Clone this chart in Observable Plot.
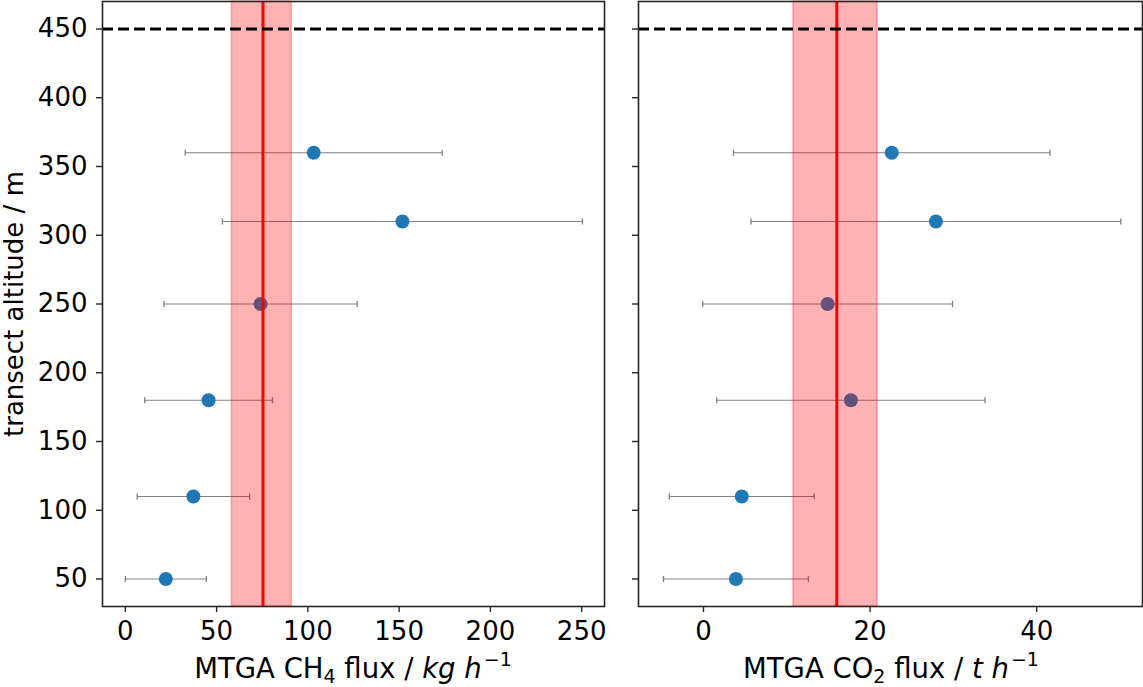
<!DOCTYPE html>
<html>
<head>
<meta charset="utf-8">
<script src="https://cdn.jsdelivr.net/npm/d3@7"></script>
<script src="https://cdn.jsdelivr.net/npm/@observablehq/plot@0.6"></script>
<style>
  body { margin: 0; background: #fff; font-family: "DejaVu Sans", sans-serif; }
  #wrap { position: relative; width: 1143px; height: 687px; overflow: hidden; }
  .panel { position: absolute; top: 0; }
  .xlabel { position: absolute; top: 653px; font-size: 27.5px; line-height: 30px; white-space: nowrap; transform: translateX(-50%); color: #000; }
  .xlabel sub { font-size: 19px; vertical-align: -5px; line-height: 0; }
  .xlabel sup { font-size: 19px; vertical-align: 12px; line-height: 0; margin-left: 2px; }
</style>
</head>
<body>
<div id="wrap">
  <div class="panel" id="left" style="left:0"></div>
  <div class="panel" id="right" style="left:620px"></div>
  <div class="xlabel" style="left:353px">MTGA CH<sub>4</sub> flux / <i>kg</i> <i>h</i><sup>−1</sup></div>
  <div class="xlabel" style="left:891px">MTGA CO<sub>2</sub> flux / <i>t</i> <i>h</i><sup>−1</sup></div>
</div>
<script>
// transect altitudes (m)
const altitude = [360, 310, 250, 180, 110, 50];

// CH4 flux (kg/h) and its uncertainty
const ch4Flux = [103.2, 151.8, 74.1, 45.6, 37.3, 22.2];
const ch4Err  = [70.4, 98.6, 52.9, 35.0, 30.8, 22.2];
const ch4Mean = 75.4;
const ch4Band = [58.4, 91.2];

// CO2 flux (t/h) and its uncertainty
const co2Flux = [22.6, 27.9, 14.9, 17.7, 4.6, 3.9];
const co2Err  = [19.0, 22.2, 15.0, 16.1, 8.7, 8.7];
const co2Mean = 16.0;
const co2Band = [10.8, 20.9];

const ceilingAltitude = 450;

const yTicks = [50, 100, 150, 200, 250, 300, 350, 400, 450];
const ch4Ticks = [0, 50, 100, 150, 200, 250];
const co2Ticks = [0, 20, 40];

// vertical bar symbol for the error-bar caps
const capSymbol = {
  draw(context, size) {
    const h = Math.sqrt(size / Math.PI);
    context.moveTo(0, -h);
    context.lineTo(0, h);
  }
};

function panel({flux, err, mean, band, xDomain, xTicks, width, marginLeft, marginRight, yLabels}) {
  const rows = altitude.map((a, i) => ({alt: a, flux: flux[i], err: err[i]}));
  return Plot.plot({
    width: width,
    height: 648,
    marginLeft: marginLeft,
    marginRight: marginRight,
    marginTop: 1,
    marginBottom: 42,
    style: {fontFamily: "DejaVu Sans", fontSize: "26px", color: "#000", background: "transparent", overflow: "visible"},
    x: {domain: xDomain},
    y: {domain: [30, 470]},
    marks: [
      // error bars
      Plot.link(rows, {x1: d => d.flux - d.err, x2: d => d.flux + d.err, y1: "alt", y2: "alt", stroke: "#808080", strokeWidth: 1}),
      Plot.dot(rows, {x: d => d.flux - d.err, y: "alt", r: 3, symbol: capSymbol, stroke: "#808080", strokeWidth: 1.3, fill: "none"}),
      Plot.dot(rows, {x: d => d.flux + d.err, y: "alt", r: 3, symbol: capSymbol, stroke: "#808080", strokeWidth: 1.3, fill: "none"}),
      // points
      Plot.dot(rows, {x: "flux", y: "alt", r: 7, fill: "#1f77b4", stroke: "none"}),
      // mean band and mean
      Plot.rect([band], {x1: d => d[0], x2: d => d[1], fill: "red", fillOpacity: 0.3, stroke: "red", strokeOpacity: 0.3, strokeWidth: 1.5}),
      Plot.ruleX([mean], {stroke: "red", strokeWidth: 3}),
      // ceiling
      Plot.ruleY([ceilingAltitude], {stroke: "black", strokeWidth: 3, strokeDasharray: "11,5"}),
      Plot.frame({stroke: "#262626", strokeWidth: 1.6}),
      Plot.axisX({ticks: xTicks, tickSize: 6, tickPadding: 9, fontSize: 26, label: null, stroke: "#262626", strokeWidth: 1.4}),
      Plot.axisY({
        ticks: yTicks, tickSize: 6, tickPadding: 9, fontSize: 26, stroke: "#262626", strokeWidth: 1.4,
        tickFormat: yLabels ? d => String(d) : () => "",
        label: yLabels ? "transect altitude / m" : null,
        labelAnchor: "center", labelArrow: "none", labelOffset: 98
      })
    ]
  });
}

document.getElementById("left").append(panel({
  flux: ch4Flux, err: ch4Err, mean: ch4Mean, band: ch4Band,
  xDomain: [-12.5, 262.5], xTicks: ch4Ticks,
  width: 620, marginLeft: 102, marginRight: 16, yLabels: true
}));

document.getElementById("right").append(panel({
  flux: co2Flux, err: co2Err, mean: co2Mean, band: co2Band,
  xDomain: [-7.8, 52.7], xTicks: co2Ticks,
  width: 523, marginLeft: 18, marginRight: 1, yLabels: false
}));
</script>
</body>
</html>
